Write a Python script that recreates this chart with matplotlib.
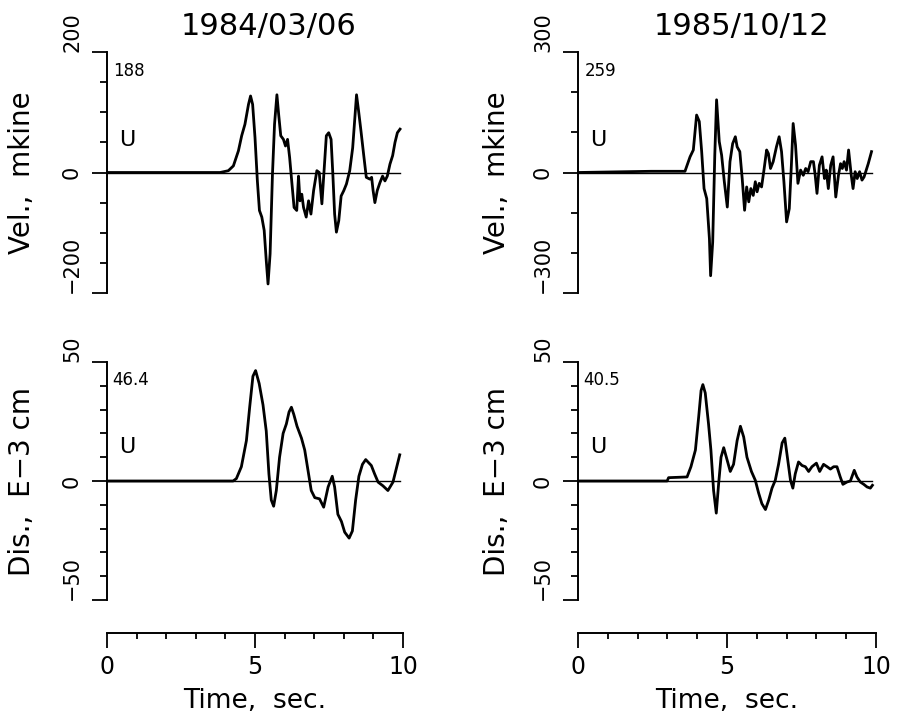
import matplotlib.pyplot as plt
from matplotlib.ticker import MultipleLocator

# ---- 1984/03/06 ----
vel84_t = [0, 3.82, 4.10, 4.27, 4.44, 4.55, 4.66, 4.78, 4.85, 4.92, 5.00, 5.08, 5.15, 5.23,
           5.31, 5.38, 5.44, 5.51, 5.59, 5.66, 5.74, 5.80, 5.87, 5.96, 6.03, 6.10, 6.17, 6.24,
           6.32, 6.41, 6.47, 6.52, 6.58, 6.64, 6.73, 6.81, 6.89, 6.98, 7.09, 7.17, 7.26, 7.34,
           7.41, 7.49, 7.57, 7.63, 7.69, 7.75, 7.83, 7.91, 8.00, 8.09, 8.20, 8.30, 8.43, 8.50,
           8.58, 8.67, 8.76, 8.88, 8.94, 8.99, 9.05, 9.13, 9.22, 9.31, 9.39, 9.47, 9.56, 9.65,
           9.73, 9.81, 9.90]
vel84_v = [0, 0, 3, 11, 36, 61, 80, 113, 127, 113, 58, -14, -63, -74,
           -96, -146, -185, -135, -3, 80, 129, 96, 61, 55, 44, 55, 25, -14,
           -58, -63, -6, -47, -36, -58, -74, -47, -69, -30, 3, 0, -52, 8,
           61, 66, 55, -3, -69, -99, -80, -39, -30, -19, 3, 41, 129, 102,
           69, 30, -8, -11, -8, -30, -50, -30, -17, -6, -14, -6, 14, 28,
           50, 66, 72]

dis84_t = [0, 4.26, 4.37, 4.54, 4.71, 4.82, 4.93, 5.02, 5.14, 5.27, 5.38, 5.47, 5.55, 5.63,
           5.72, 5.83, 5.95, 6.06, 6.15, 6.23, 6.31, 6.42, 6.57, 6.68, 6.79, 6.90, 7.02, 7.18,
           7.32, 7.47, 7.61, 7.69, 7.80, 7.92, 8.03, 8.18, 8.29, 8.40, 8.51, 8.63, 8.74, 8.93,
           9.04, 9.16, 9.32, 9.49, 9.66, 9.77, 9.89]
dis84_v = [0, 0, 1, 6, 17, 31, 44, 46.4, 41, 32, 21, 3, -8, -10.6,
           -4, 10, 20, 24, 29, 31, 28, 23, 18, 13, 4.5, -4, -7, -7.5,
           -11, -2.5, 2, -2.5, -14, -17, -21.5, -24, -21, -8, 2, 7, 9, 6.5,
           3, -0.5, -2, -4, -0.5, 5, 11]

# ---- 1985/10/12 ----
vel85_t = [0, 2.45, 3.59, 3.76, 3.87, 3.98, 4.07, 4.15, 4.23, 4.32, 4.41, 4.45, 4.52, 4.59,
           4.65, 4.74, 4.82, 4.91, 5.01, 5.10, 5.19, 5.28, 5.34, 5.43, 5.51, 5.59, 5.66, 5.73,
           5.80, 5.88, 5.95, 6.01, 6.08, 6.16, 6.24, 6.33, 6.39, 6.46, 6.55, 6.66, 6.75, 6.83,
           6.91, 7.00, 7.09, 7.16, 7.22, 7.30, 7.38, 7.47, 7.56, 7.64, 7.72, 7.81, 7.90, 7.96,
           8.02, 8.10, 8.19, 8.27, 8.33, 8.40, 8.48, 8.56, 8.65, 8.74, 8.81, 8.87, 8.93, 9.01,
           9.08, 9.17, 9.23, 9.30, 9.37, 9.45, 9.53, 9.60, 9.74, 9.85]
vel85_v = [0, 3, 3, 39, 56, 143, 127, 52, -40, -65, -165, -257, -173, 43,
           181, 77, 43, -23, -86, 27, 72, 89, 64, 52, -15, -94, -36, -73,
           -40, -57, -23, -48, -27, -36, 6, 56, 47, 10, 27, 64, 89, 52,
           -23, -123, -90, 18, 122, 68, -27, 6, -7, 10, 2, 27, 27, -7,
           -52, 18, 39, -15, 6, -40, 18, 39, -61, -7, 22, 10, 27, 6,
           56, -7, -40, 2, -15, 2, -19, -11, 22, 52]

dis85_t = [0, 2.99, 3.04, 3.66, 3.79, 3.94, 4.05, 4.13, 4.19, 4.27, 4.38, 4.46, 4.55, 4.64,
           4.72, 4.80, 4.89, 5.00, 5.11, 5.22, 5.34, 5.45, 5.56, 5.67, 5.82, 5.95, 6.06, 6.17,
           6.29, 6.40, 6.51, 6.62, 6.73, 6.85, 6.94, 7.01, 7.13, 7.21, 7.29, 7.40, 7.52, 7.63,
           7.74, 7.85, 8.00, 8.11, 8.24, 8.36, 8.47, 8.58, 8.69, 8.80, 8.89, 9.03, 9.14, 9.27,
           9.36, 9.47, 9.59, 9.70, 9.81, 9.88]
dis85_v = [0, 0, 1.4, 1.7, 6, 13, 27, 38, 40.5, 37, 24, 13, -4, -13.5,
           -1, 10, 14, 9, 4, 7, 17, 23, 18.5, 10, 4, 0.3, -5, -9.5,
           -12, -8, -3, 0.3, 7, 16, 18, 11.5, 0.3, -3, 3, 8, 6.5, 6,
           4, 6, 7.5, 4, 7, 6, 5, 6, 6, 1.7, -1.4, -0.4, 0, 4.5,
           1.7, -0.4, -1.4, -2.5, -3, -1.8]

titles = ["1984/03/06", "1985/10/12"]
vel_peaks = ["188", "259"]
dis_peaks = ["46.4", "40.5"]
vel_lims = [200, 300]
vel_steps = [50, 100]
dis_lim = 50
dis_step = 10
time_ticks = [0, 5, 10]

W, H = 902, 721
fig = plt.figure(figsize=(W / 100, H / 100), dpi=100)
plt.rcParams['font.family'] = 'DejaVu Sans'


def box(x0, x1, ytop, ybot):
    return [x0 / W, 1 - ybot / H, (x1 - x0) / W, (ybot - ytop) / H]


def style_trace_ax(ax, lim, step, label, labx):
    ax.set_xlim(0, 10)
    ax.set_ylim(-lim, lim)
    for s in ["top", "right", "bottom"]:
        ax.spines[s].set_visible(False)
    ax.spines["left"].set_linewidth(1.4)
    ax.set_xticks([])
    ax.set_yticks([-lim, 0, lim])
    ax.yaxis.set_minor_locator(MultipleLocator(step))
    ax.tick_params(axis="y", which="major", length=11, width=1.3, pad=7, labelsize=15)
    ax.tick_params(axis="y", which="minor", length=5, width=1.3)
    labs = ax.get_yticklabels()
    for lab in labs:
        lab.set_rotation(90)
    labs[0].set_va("bottom")
    labs[1].set_va("center")
    labs[2].set_va("bottom")
    ax.set_ylabel(label, fontsize=20)
    ax.yaxis.set_label_coords(labx, 0.5)
    ax.patch.set_visible(False)


cols = [(107, 403), (578, 876)]
vel_data = [(vel84_t, vel84_v), (vel85_t, vel85_v)]
dis_data = [(dis84_t, dis84_v), (dis85_t, dis85_v)]
labx = [-0.24, -0.225]

for i, (x0, x1) in enumerate(cols):
    # velocity
    ax = fig.add_axes(box(x0, x1, 52, 293))
    t, v = vel_data[i]
    ax.axhline(0, xmax=t[-1] / 10, color="black", lw=1.0)
    ax.plot(t, v, color="black", lw=2.0, solid_joinstyle="round")
    style_trace_ax(ax, vel_lims[i], vel_steps[i], "Vel.,  mkine", labx[i])
    ax.set_title(titles[i], fontsize=22, x=0.547, pad=12)
    ax.text(0.022, 0.921, vel_peaks[i], transform=ax.transAxes, fontsize=12, va="center")
    ax.text(0.04, 0.635, "U", transform=ax.transAxes, fontsize=16, va="center")

    # displacement
    ax = fig.add_axes(box(x0, x1, 362, 600))
    t, v = dis_data[i]
    ax.axhline(0, xmax=t[-1] / 10, color="black", lw=1.0)
    ax.plot(t, v, color="black", lw=2.0, solid_joinstyle="round")
    style_trace_ax(ax, dis_lim, dis_step, "Dis.,  E\u22123 cm", labx[i])
    ax.text(0.018, 0.924, dis_peaks[i], transform=ax.transAxes, fontsize=12, va="center")
    ax.text(0.04, 0.643, "U", transform=ax.transAxes, fontsize=16, va="center")

    # time axis
    tax = fig.add_axes(box(x0, x1, 632, 633))
    tax.set_xlim(0, 10)
    tax.set_yticks([])
    for s in ["top", "right", "left"]:
        tax.spines[s].set_visible(False)
    tax.spines["bottom"].set_linewidth(1.4)
    tax.set_xticks(time_ticks)
    tax.xaxis.set_minor_locator(MultipleLocator(1))
    tax.tick_params(axis="x", which="major", length=11, width=1.3, pad=5, labelsize=17)
    tax.tick_params(axis="x", which="minor", length=4, width=1.3)
    tax.set_xlabel("Time,  sec.", fontsize=19, labelpad=6)
    tax.patch.set_visible(False)

fig.savefig("out.png", dpi=100)
